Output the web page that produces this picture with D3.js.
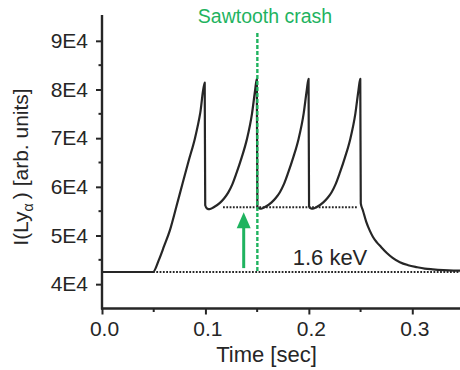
<!DOCTYPE html>
<html>
<head>
<style>
  body { margin: 0; background: #fff; }
  text { font-family: "Liberation Sans", Arial, Helvetica, sans-serif; fill: #262626; }
</style>
</head>
<body>
<script src="https://cdn.jsdelivr.net/npm/d3@7"></script>
<script>
// signal (time in s, intensity in arb. units)
const timeSec = [
  0.0000, 0.0493, 0.0550, 0.0600, 0.0657, 0.0720, 0.0780, 0.0840, 0.0899, 0.0950, 0.0993,
  0.0998, 0.1015, 0.1040, 0.1080, 0.1140, 0.1180, 0.1220, 0.1260, 0.1300, 0.1350, 0.1400, 0.1450, 0.1480, 0.1497,
  0.1502, 0.1517, 0.1540, 0.1580, 0.1640, 0.1680, 0.1720, 0.1760, 0.1800, 0.1850, 0.1900, 0.1950, 0.1980, 0.1997,
  0.2002, 0.2017, 0.2040, 0.2080, 0.2140, 0.2180, 0.2220, 0.2260, 0.2300, 0.2350, 0.2400, 0.2450, 0.2480, 0.2497,
  0.2502, 0.2522, 0.2555, 0.2589, 0.2620, 0.2657, 0.2700, 0.2754, 0.2810, 0.2880, 0.2960, 0.3043, 0.3120, 0.3198, 0.3300, 0.3400, 0.3500
]
const intensity = [
  42500, 42500, 45000, 47800, 51100, 56000, 60800, 65500, 70000, 75200, 81400,
  56200, 55550, 55400, 55800, 56700, 57600, 58800, 60500, 62800, 66000, 69700, 75000, 79800, 82200,
  56000, 55600, 55500, 55900, 56800, 57700, 58900, 60600, 62900, 66100, 69800, 75100, 79900, 82200,
  56000, 55600, 55500, 55900, 56800, 57700, 58900, 60600, 62900, 66100, 69800, 75100, 79900, 82200,
  56600, 55200, 52800, 51000, 49700, 48600, 47600, 46400, 45400, 44500, 43900, 43500, 43200, 43050, 42900, 42800, 42750
]

// reference levels and annotations
const baseLevel = 42500
const plateauLevel = 55800
const plateauStart = 0.117
const plateauEnd = 0.247
const crashTime = 0.1502
const crashTop = 91600
const arrowTime = 0.137
const arrowFrom = 43300
const arrowTo = 54800

// axes
const yTicks = [40000, 50000, 60000, 70000, 80000, 90000]
const yTickLabels = ["4E4", "5E4", "6E4", "7E4", "8E4", "9E4"]
const yMinor = [45000, 55000, 65000, 75000, 85000]
const xTicks = [0, 0.1, 0.2, 0.3]
const xTickLabels = ["0.0", "0.1", "0.2", "0.3"]
const xMinor = [0.05, 0.15, 0.25]

const w = 460
const h = 370
const green = "#1fb35f"
const ink = "#262626"

const svg = d3.select("body").append("svg").attr("width", w).attr("height", h)

const x = d3.scaleLinear().domain([0, 0.35]).range([102, 464])
const y = d3.scaleLinear().domain([35000, 95000]).range([308.5, 16.5])

// clip plot region
svg.append("clipPath").attr("id", "plot")
  .append("rect").attr("x", 102).attr("y", 10).attr("width", 360).attr("height", 300)

// dotted reference lines
svg.append("line")
  .attr("x1", x(0.0493)).attr("x2", x(0.35)).attr("y1", y(baseLevel)).attr("y2", y(baseLevel))
  .attr("stroke", ink).attr("stroke-width", 2).attr("stroke-dasharray", "1.8,1.5")
svg.append("line")
  .attr("x1", x(plateauStart)).attr("x2", x(plateauEnd)).attr("y1", y(plateauLevel)).attr("y2", y(plateauLevel))
  .attr("stroke", ink).attr("stroke-width", 2).attr("stroke-dasharray", "1.8,1.5")

// signal
const pts = timeSec.map((t, i) => [t, intensity[i]])
const line = d3.line().x(d => x(d[0])).y(d => y(d[1])).curve(d3.curveMonotoneX)
svg.append("path").datum(pts)
  .attr("clip-path", "url(#plot)")
  .attr("d", line)
  .attr("fill", "none").attr("stroke", ink).attr("stroke-width", 2.2)
  .attr("stroke-linejoin", "round")

// sawtooth crash marker
svg.append("line")
  .attr("x1", x(crashTime)).attr("x2", x(crashTime)).attr("y1", y(crashTop)).attr("y2", y(baseLevel))
  .attr("stroke", green).attr("stroke-width", 2.4).attr("stroke-dasharray", "4,2")
svg.append("text").attr("x", 265).attr("y", 23).attr("text-anchor", "middle")
  .style("font-size", "19.5px").style("fill", green).text("Sawtooth crash")

// arrow
const ax = x(arrowTime)
const tipY = y(arrowTo)
svg.append("line").attr("x1", ax).attr("x2", ax).attr("y1", y(arrowFrom)).attr("y2", tipY + 12)
  .attr("stroke", green).attr("stroke-width", 3)
svg.append("path")
  .attr("d", `M${ax},${tipY} L${ax - 7},${tipY + 16} L${ax + 7},${tipY + 16} Z`)
  .attr("fill", green)

svg.append("text").attr("x", 330).attr("y", 265).attr("text-anchor", "middle")
  .style("font-size", "22px").text("1.6 keV")

// y axis
const yAxis = d3.axisLeft(y).tickValues(yTicks).tickFormat((d, i) => yTickLabels[i]).tickSize(6).tickPadding(8)
const gy = svg.append("g").attr("transform", "translate(102,0)").call(yAxis)
gy.selectAll(".tick line").attr("stroke", ink).attr("stroke-width", 2)
gy.selectAll(".tick text").style("font-size", "21px").attr("fill", ink)
gy.select(".domain").remove()
gy.selectAll(".minor").data(yMinor).enter().append("line")
  .attr("x1", -3.5).attr("x2", 0).attr("y1", d => y(d)).attr("y2", d => y(d))
  .attr("stroke", ink).attr("stroke-width", 2)

// x axis
const xAxis = d3.axisBottom(x).tickValues(xTicks).tickFormat((d, i) => xTickLabels[i]).tickSize(6).tickPadding(7)
const gx = svg.append("g").attr("transform", "translate(0,308.5)").call(xAxis)
gx.selectAll(".tick line").attr("stroke", ink).attr("stroke-width", 2)
gx.selectAll(".tick text").style("font-size", "21px").attr("fill", ink).attr("dx", "2")
gx.select(".domain").remove()
gx.selectAll(".minor").data(xMinor).enter().append("line")
  .attr("x1", d => x(d)).attr("x2", d => x(d)).attr("y1", 0).attr("y2", 3.5)
  .attr("stroke", ink).attr("stroke-width", 2)

// axis lines
svg.append("line").attr("x1", 102).attr("x2", 102).attr("y1", 15).attr("y2", 309.5)
  .attr("stroke", ink).attr("stroke-width", 2.4)
svg.append("line").attr("x1", 101).attr("x2", 460).attr("y1", 308.5).attr("y2", 308.5)
  .attr("stroke", ink).attr("stroke-width", 2.4)

// axis titles
svg.append("text").attr("x", 266.5).attr("y", 362).attr("text-anchor", "middle")
  .style("font-size", "22px").text("Time [sec]")

const yt = svg.append("text").attr("transform", "translate(28,167) rotate(-90)")
  .attr("text-anchor", "middle").style("font-size", "21px")
yt.append("tspan").text("I(Ly")
yt.append("tspan").attr("dy", 5).style("font-size", "14px").text("α")
yt.append("tspan").attr("dy", -5).text("\u2009) [arb. units]")
</script>
</body>
</html>
